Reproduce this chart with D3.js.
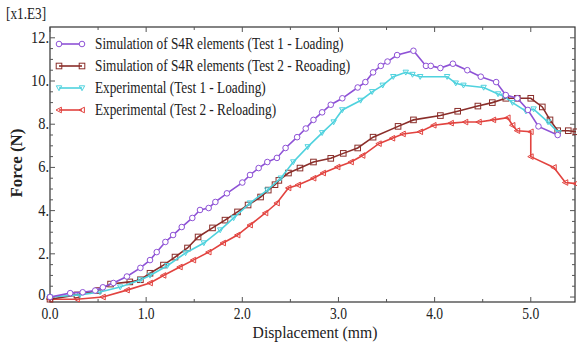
<!DOCTYPE html>
<html>
<head>
<meta charset="utf-8">
<script src="https://cdn.jsdelivr.net/npm/d3@7"></script>
<style>
body { margin: 0; background: #fff; }
</style>
</head>
<body>
<div id="chart"></div>
<script>
// series data: displacement (mm) and force (x1000 N)
var sim1X = [0,0.21,0.34,0.47,0.55,0.66,0.8,0.94,1.04,1.11,1.2,1.28,1.37,1.48,1.56,1.65,1.72,1.84,2.0,2.08,2.17,2.26,2.36,2.45,2.57,2.66,2.74,2.83,2.92,3.04,3.2,3.28,3.36,3.44,3.51,3.61,3.78,3.91,3.96,4.06,4.19,4.34,4.48,4.64,4.74,4.86,4.97,5.08,5.28];
var sim1Y = [0,0.18,0.22,0.3,0.45,0.65,0.95,1.35,1.71,2.08,2.55,2.87,3.24,3.66,4.03,4.12,4.4,4.8,5.3,5.65,5.97,6.25,6.44,6.9,7.4,7.8,8.2,8.55,8.9,9.2,9.7,9.95,10.4,10.7,10.9,11.2,11.4,10.7,10.7,10.6,10.8,10.5,10.2,9.95,9.35,9.2,8.66,7.9,7.5];

var sim2X = [0,0.28,0.5,0.63,0.83,0.94,1.04,1.18,1.3,1.43,1.54,1.69,1.82,1.95,2.06,2.19,2.27,2.34,2.38,2.48,2.6,2.74,2.92,3.05,3.2,3.36,3.62,3.78,4.06,4.24,4.45,4.6,4.74,4.86,5.0,5.12,5.2,5.28,5.39,5.47];
var sim2Y = [-0.1,0.1,0.3,0.6,0.7,0.8,1.1,1.48,1.85,2.27,2.78,3.2,3.56,3.94,4.26,4.63,4.95,5.2,5.4,5.74,5.97,6.25,6.42,6.65,6.9,7.4,7.9,8.2,8.4,8.6,8.84,9.0,9.2,9.2,9.2,8.8,8.2,7.7,7.7,7.65];

var exp1X = [0,0.31,0.52,0.73,0.94,1.04,1.22,1.41,1.6,1.77,1.91,2.08,2.26,2.4,2.53,2.68,2.83,2.95,3.04,3.23,3.35,3.46,3.57,3.7,3.77,3.85,4.13,4.22,4.3,4.51,4.66,4.72,4.81,4.95,5.03,5.18,5.29];
var exp1Y = [0,0.1,0.23,0.46,0.79,1.0,1.45,2.04,2.5,3.1,3.66,4.35,4.95,5.5,6.25,6.95,7.6,8.1,8.66,9.1,9.5,9.8,10.2,10.4,10.3,10.2,10.2,9.9,9.8,9.7,9.4,9.3,9.0,8.6,8.7,8.1,7.6];

var exp2X = [0,0.28,0.55,0.8,1.04,1.18,1.35,1.49,1.65,1.8,1.95,2.08,2.24,2.36,2.48,2.58,2.74,2.84,2.99,3.13,3.25,3.42,3.56,3.67,3.85,3.99,4.17,4.32,4.46,4.61,4.76,4.81,4.86,5.0,5.0,5.24,5.36,5.47];
var exp2Y = [-0.1,-0.1,0,0.32,0.65,1.0,1.39,1.71,2.08,2.5,2.87,3.33,3.89,4.35,5.05,5.19,5.5,5.74,6.02,6.25,6.55,7.1,7.35,7.55,7.65,7.95,8.05,8.1,8.1,8.2,8.3,7.95,7.7,7.65,6.5,6.0,5.3,5.25];

var seriesNames = ["Simulation of S4R elements (Test 1 - Loading)",
                   "Simulation of S4R elements (Test 2 - Reoading)",
                   "Experimental (Test 1 - Loading)",
                   "Experimental (Test 2 - Reloading)"];
var xTicks = [0, 1, 2, 3, 4, 5];
var yTicks = [0, 2, 4, 6, 8, 10, 12];

var serifFont = "'Liberation Serif', serif";

// the source figure is a bit squeezed sideways, so text gets a horizontal scale
function addText(parent, x, y, str, size, anchor, sx) {
    return parent.append("text")
        .attr("transform", "translate(" + x + "," + y + ") scale(" + sx + ",1)")
        .style("font-family", serifFont)
        .attr("font-size", size)
        .attr("text-anchor", anchor)
        .attr("fill", "#222")
        .text(str);
}

function init() {
    var w = 577, h = 345;
    var left = 50, right = 575, top = 27, bottom = 302;

    var svg = d3.select("#chart").append("svg")
        .attr("width", w).attr("height", h)
        .style("font-family", serifFont);

    var x = d3.scaleLinear().domain([0, 5.46]).range([left, right]);
    var y = d3.scaleLinear().domain([-0.23, 12.5]).range([bottom, top]);

    var series = [
        { name: seriesNames[0], xs: sim1X, ys: sim1Y, color: "#8e52d6", marker: "circle" },
        { name: seriesNames[1], xs: sim2X, ys: sim2Y, color: "#8a2e2a", marker: "square" },
        { name: seriesNames[2], xs: exp1X, ys: exp1Y, color: "#4fd2de", marker: "tri" },
        { name: seriesNames[3], xs: exp2X, ys: exp2Y, color: "#e2433f", marker: "ltri" }
    ];

    // frame
    svg.append("rect")
        .attr("x", left).attr("y", top)
        .attr("width", right - left).attr("height", bottom - top)
        .attr("fill", "none").attr("stroke", "#333").attr("stroke-width", 1.2);

    // minor + major ticks, pointing inside
    var xMinor = d3.range(0, 5.5, 0.5);
    svg.selectAll(".xt").data(xMinor).enter().append("line")
        .attr("x1", d => x(d)).attr("x2", d => x(d))
        .attr("y1", bottom).attr("y2", d => bottom - (d % 1 === 0 ? 5 : 3))
        .attr("stroke", "#555");
    svg.selectAll(".xtt").data(xMinor).enter().append("line")
        .attr("x1", d => x(d)).attr("x2", d => x(d))
        .attr("y1", top).attr("y2", d => top + (d % 1 === 0 ? 5 : 3))
        .attr("stroke", "#555");
    var yMinor = d3.range(0, 12.5, 0.5);
    svg.selectAll(".yt").data(yMinor).enter().append("line")
        .attr("x1", left).attr("x2", d => left + (d % 2 === 0 ? 5 : 3))
        .attr("y1", d => y(d)).attr("y2", d => y(d))
        .attr("stroke", "#555");
    svg.selectAll(".ytr").data(yMinor).enter().append("line")
        .attr("x1", right).attr("x2", d => right - (d % 2 === 0 ? 5 : 3))
        .attr("y1", d => y(d)).attr("y2", d => y(d))
        .attr("stroke", "#555");

    // tick labels
    xTicks.forEach(d => addText(svg, x(d), 319, d.toFixed(1), 16, "middle", 0.85));
    yTicks.forEach(d => addText(svg, left - 1, y(d) + (d === 0 ? 3 : 5), d + ".", 17, "end", 0.85));

    addText(svg, 6, 19, "[x1.E3]", 17, "start", 0.78);
    addText(svg, 315, 338, "Displacement (mm)", 16, "middle", 0.98);
    svg.append("text")
        .attr("transform", "translate(22,163) rotate(-90)")
        .style("font-family", serifFont)
        .attr("text-anchor", "middle").attr("font-size", 17).attr("font-weight", "bold")
        .attr("fill", "#222").text("Force (N)");

    function drawMarker(g, type, cx, cy, color) {
        if (type === "circle") {
            g.append("circle").attr("cx", cx).attr("cy", cy).attr("r", 2.8)
                .attr("fill", "#fff").attr("stroke", color).attr("stroke-width", 1);
        } else if (type === "square") {
            g.append("rect").attr("x", cx - 2.8).attr("y", cy - 2.8)
                .attr("width", 5.6).attr("height", 5.6)
                .attr("fill", "none").attr("stroke", color).attr("stroke-width", 1);
        } else if (type === "tri") {
            g.append("path")
                .attr("d", "M" + (cx - 2.7) + "," + (cy - 2.2) + "L" + (cx + 2.7) + "," + (cy - 2.2) + "L" + cx + "," + (cy + 2.7) + "Z")
                .attr("fill", "none").attr("stroke", color).attr("stroke-width", 1);
        } else {
            g.append("path")
                .attr("d", "M" + (cx - 3) + "," + cy + "L" + (cx + 2.4) + "," + (cy - 2.8) + "L" + (cx + 2.4) + "," + (cy + 2.8) + "Z")
                .attr("fill", "none").attr("stroke", color).attr("stroke-width", 1);
        }
    }

    var line = d3.line().x(d => x(d[0])).y(d => y(d[1]));
    var plot = svg.append("g");

    // draw back to front: red, brown, cyan, purple
    [3, 1, 2, 0].forEach(function (i) {
        var s = series[i];
        var pts = s.xs.map((v, j) => [v, s.ys[j]]);
        plot.append("path").datum(pts)
            .attr("d", line).attr("fill", "none")
            .attr("stroke", s.color).attr("stroke-width", 1.6);
        var mg = plot.append("g");
        pts.forEach(p => drawMarker(mg, s.marker, x(p[0]), y(p[1]), s.color));
    });

    // legend
    var legY = [44, 66, 88, 110];
    series.forEach(function (s, i) {
        var g = svg.append("g");
        g.append("line").attr("x1", 59).attr("x2", 82)
            .attr("y1", legY[i]).attr("y2", legY[i])
            .attr("stroke", s.color).attr("stroke-width", 1.6);
        drawMarker(g, s.marker, 59, legY[i], s.color);
        drawMarker(g, s.marker, 82, legY[i], s.color);
        addText(g, 95, legY[i] + 5, s.name, 16, "start", 0.83);
    });
}
window.onload = init;
</script>
</body>
</html>
